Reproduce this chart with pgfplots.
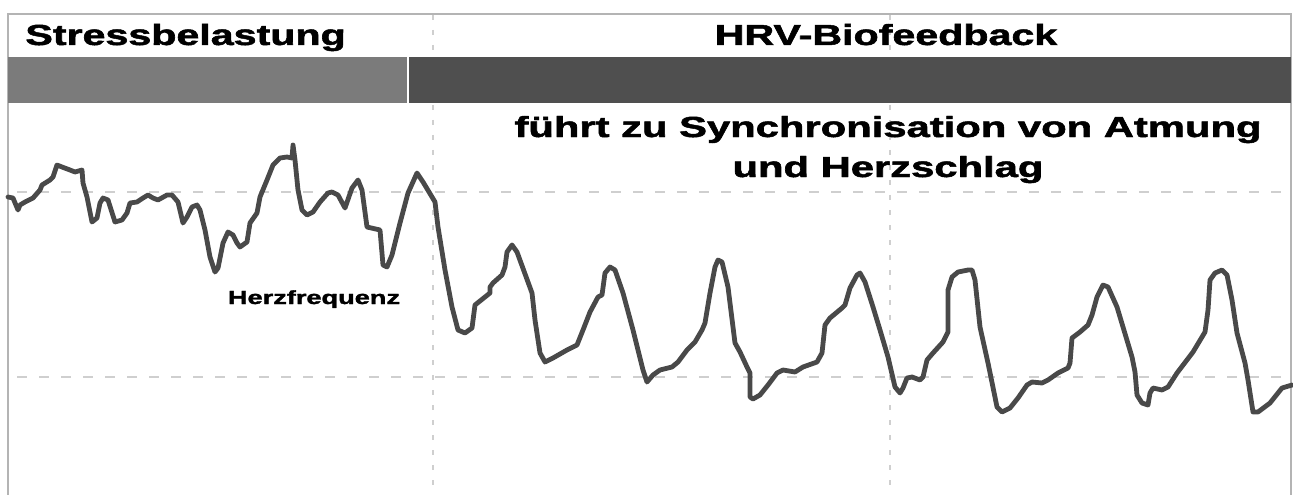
\documentclass[border=0pt]{standalone}
\usepackage{pgfplots}
\pgfplotsset{compat=1.18}
\usepackage{fontspec}
\setmainfont{Liberation Sans}[BoldFeatures={FakeBold=1.6}]
\definecolor{lightbar}{HTML}{7B7B7B}
\definecolor{darkbar}{HTML}{4F4F4F}
\definecolor{hrline}{HTML}{494949}
\definecolor{gridc}{HTML}{CFCFCF}
\definecolor{framec}{HTML}{B4B4B4}
\newcommand{\wide}[2][1.47]{\scalebox{#1}[1]{#2}}
\begin{document}
\begin{tikzpicture}
\begin{axis}[
  scale only axis,
  width=646.5bp, height=247.5bp,
  xmin=0, xmax=1293, ymin=0, ymax=495,
  y dir=reverse,
  hide axis,
  clip=true,
]
% frame
\draw[framec, line width=1.2bp] (axis cs:8,500) -- (axis cs:8,14) -- (axis cs:1291,14) -- (axis cs:1291,500);
% grid lines
\draw[gridc, line width=1bp, dash pattern=on 5bp off 6bp] (axis cs:17,192) -- (axis cs:1291,192);
\draw[gridc, line width=1bp, dash pattern=on 5bp off 6bp] (axis cs:17,377) -- (axis cs:1291,377);
\draw[gridc, line width=0.8bp, dash pattern=on 2.5bp off 5bp] (axis cs:433,15) -- (axis cs:433,500);
\draw[gridc, line width=0.8bp, dash pattern=on 2.5bp off 5bp] (axis cs:890,15) -- (axis cs:890,500);
% header bars
\addplot[fill=lightbar, draw=none] coordinates {(8,57) (406.5,57) (406.5,103) (8,103)} -- cycle;
\addplot[fill=darkbar, draw=none] coordinates {(408.5,57) (1291,57) (1291,103) (408.5,103)} -- cycle;
% heart rate
\addplot[hrline, line width=2.4bp, line join=round, line cap=round] coordinates {
(8,197) (13,198) (18,210) (20,205) (25,202) (33,198) (40,190) (42,185) (50,180) (53,177) (57,165) (62,167) (70,170) (75,172) (82,170) (83,183) (87,197) (92,222) (97,218) (100,203) (103,198) (108,200) (115,222) (122,220) (127,213) (130,203) (137,202) (143,198) (148,195) (153,198) (158,200) (167,195) (172,195) (178,202) (183,223) (187,217) (192,207) (197,205) (200,210) (205,230) (210,257) (215,272) (218,268) (223,243) (228,232) (233,235) (237,243) (240,247) (247,242) (250,223) (257,213) (260,197) (267,180) (273,165) (280,158) (287,157) (292,158) (293,145) (295,160) (298,190) (302,210) (307,215) (313,212) (320,202) (328,193) (332,192) (338,195) (345,208) (352,188) (358,180) (362,190) (367,227) (380,230) (383,265) (387,267) (392,255) (400,223) (408,193) (417,173) (423,182) (435,202) (438,227) (445,270) (452,307) (458,330) (465,333) (472,328) (475,305) (485,297) (490,293) (490,287) (493,283) (502,275) (505,267) (507,252) (512,245) (517,252) (532,293) (535,320) (540,353) (545,362) (553,358) (567,350) (577,345) (583,330) (590,312) (598,297) (602,295) (605,273) (610,267) (615,270) (623,293) (633,330) (643,370) (647,382) (653,375) (660,370) (672,367) (678,362) (687,350) (695,342) (702,330) (705,323) (710,293) (715,267) (718,260) (722,262) (728,287) (735,343) (740,352) (747,367) (750,373) (750,397) (753,399) (760,395) (768,385) (777,373) (783,370) (795,372) (803,367) (817,362) (822,353) (825,325) (830,318) (842,308) (845,305) (850,288) (857,275) (860,273) (865,282) (873,307) (880,330) (888,357) (895,387) (900,393) (903,388) (907,378) (912,377) (920,380) (923,377) (927,360) (933,353) (943,342) (948,332) (948,290) (952,277) (958,272) (968,270) (972,270) (975,280) (980,327) (988,363) (997,407) (1002,412) (1010,408) (1018,398) (1027,385) (1032,382) (1042,383) (1048,380) (1058,373) (1068,368) (1070,363) (1072,338) (1080,332) (1088,325) (1092,315) (1097,297) (1103,285) (1108,287) (1117,307) (1123,327) (1132,357) (1135,372) (1137,395) (1142,403) (1148,405) (1150,393) (1153,388) (1162,390) (1168,387) (1177,373) (1193,352) (1205,332) (1208,310) (1210,280) (1215,273) (1222,270) (1227,275) (1232,300) (1237,333) (1245,363) (1248,380) (1253,412) (1258,412) (1270,403) (1282,388) (1292,385)
};
% texts
\node[anchor=base west, inner sep=0pt, font=\fontsize{14.5bp}{16bp}\selectfont\bfseries] at (axis cs:25,45) {\wide[1.42]{Stressbelastung}};
\node[anchor=base, inner sep=0pt, font=\fontsize{14.5bp}{16bp}\selectfont\bfseries] at (axis cs:886,45) {\wide[1.42]{HRV-Biofeedback}};
\node[anchor=base, inner sep=0pt, font=\fontsize{14.5bp}{16bp}\selectfont\bfseries] at (axis cs:888,137) {\wide[1.44]{führt zu Synchronisation von Atmung}};
\node[anchor=base, inner sep=0pt, font=\fontsize{14.5bp}{16bp}\selectfont\bfseries] at (axis cs:888,177) {\wide[1.44]{und Herzschlag}};
\node[anchor=base, inner sep=0pt, font=\fontsize{9.5bp}{11bp}\selectfont\bfseries] at (axis cs:314,304) {\wide[1.43]{Herzfrequenz}};
\coordinate (sw) at (rel axis cs:0,1);
\coordinate (ne) at (rel axis cs:1,0);
\end{axis}
\pgfresetboundingbox
\useasboundingbox (sw) rectangle (ne);
\end{tikzpicture}
\end{document}
